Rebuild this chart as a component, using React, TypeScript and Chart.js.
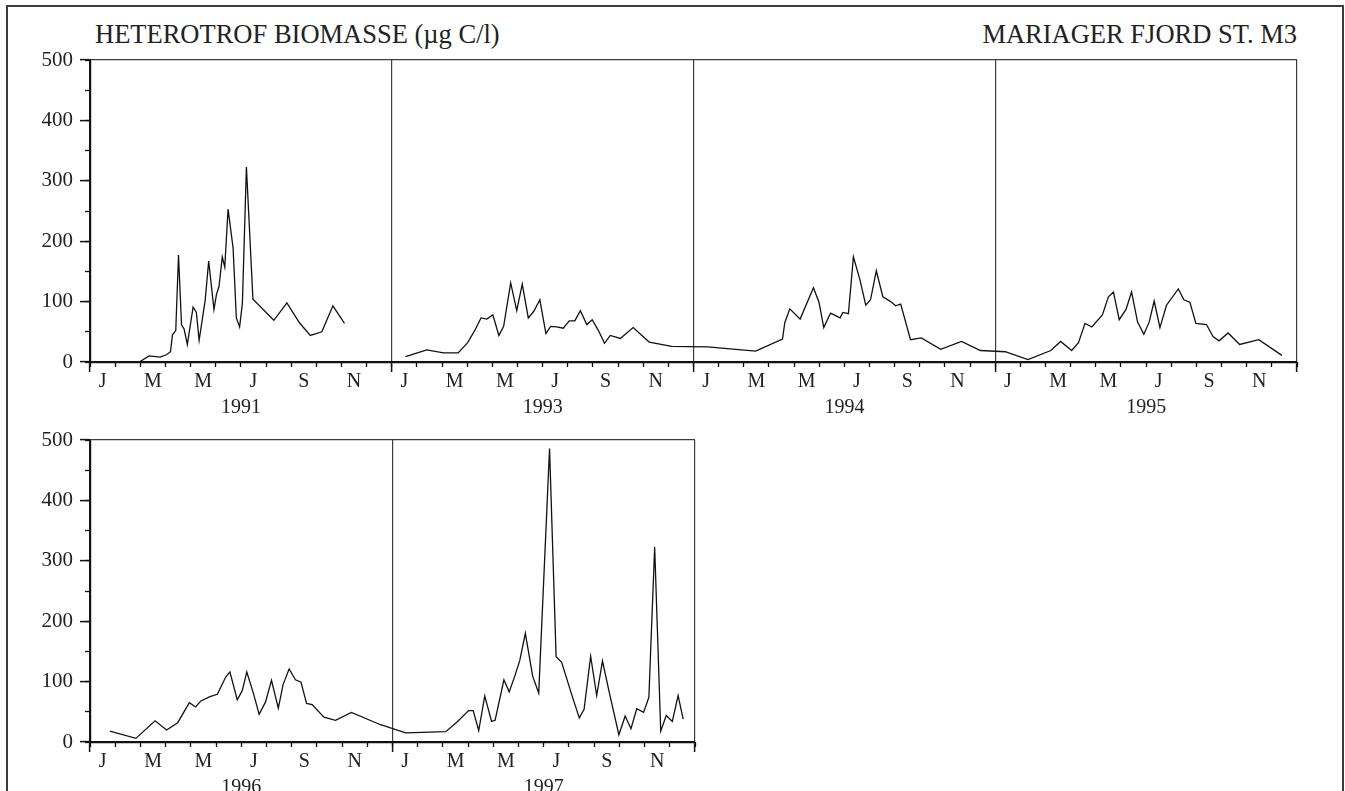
import React, { useEffect, useRef } from 'react';
import { Chart, registerables } from 'chart.js';

Chart.register(...registerables);

// ---------- data ----------
const titleLeft = 'HETEROTROF BIOMASSE (µg C/l)';
const titleRight = 'MARIAGER FJORD ST. M3';

const monthLabels = ['J', 'M', 'M', 'J', 'S', 'N'];
const monthLabelPositions = [0.5, 2.5, 4.5, 6.5, 8.5, 10.5];
const yMajorTicks = [0, 100, 200, 300, 400, 500];
const yMinorTicks = [0, 50, 100, 150, 200, 250, 300, 350, 400, 450, 500];

const topRowYears = [1991, 1993, 1994, 1995];
const bottomRowYears = [1996, 1997];

// month position within the year (0 = 1 Jan, 12 = 31 Dec) and biomass (µg C/l)
const months1991 = [1.96, 2.35, 2.78, 3.04, 3.2, 3.28, 3.41, 3.52, 3.64, 3.74, 3.87, 4.1, 4.23, 4.34, 4.58, 4.72, 4.93, 5.03, 5.13, 5.26, 5.36, 5.49, 5.69, 5.82, 5.95, 6.06, 6.22, 6.48, 7.31, 7.83, 8.33, 8.76, 9.22, 9.66, 10.12];
const values1991 = [0, 10, 8, 12, 17, 45, 52, 177, 61, 55, 29, 91, 82, 36, 102, 167, 87, 112, 125, 174, 157, 253, 189, 73, 58, 97, 323, 104, 69, 98, 65, 44, 50, 93, 64];

const months1993 = [0.55, 1.39, 2.06, 2.64, 3.02, 3.31, 3.55, 3.78, 4.02, 4.26, 4.45, 4.73, 4.97, 5.19, 5.43, 5.65, 5.89, 6.13, 6.32, 6.56, 6.82, 7.06, 7.28, 7.5, 7.76, 7.97, 8.22, 8.46, 8.69, 9.09, 9.6, 10.24, 11.13];
const values1993 = [9, 20, 15, 15, 32, 53, 73, 71, 78, 44, 59, 131, 85, 129, 73, 84, 103, 47, 59, 58, 56, 68, 68, 85, 62, 70, 52, 31, 44, 39, 57, 33, 26];

const months1994 = [0.56, 2.47, 3.54, 3.63, 3.83, 4.24, 4.77, 4.99, 5.18, 5.45, 5.83, 5.94, 6.16, 6.36, 6.62, 6.85, 7.04, 7.27, 7.53, 7.84, 8.04, 8.24, 8.63, 9.06, 9.83, 10.66, 11.41];
const values1994 = [25, 18, 38, 65, 88, 71, 123, 99, 57, 81, 73, 82, 80, 174, 136, 94, 103, 151, 108, 100, 93, 96, 37, 40, 21, 34, 19];

const months1995 = [0.4, 1.3, 2.21, 2.6, 3.04, 3.31, 3.57, 3.84, 4.26, 4.5, 4.7, 4.93, 5.2, 5.42, 5.66, 5.91, 6.12, 6.32, 6.55, 6.81, 7.28, 7.5, 7.74, 7.98, 8.4, 8.66, 8.9, 9.26, 9.72, 10.48, 11.4];
const values1995 = [17, 4, 19, 34, 19, 32, 64, 58, 78, 108, 116, 70, 87, 116, 66, 46, 66, 101, 57, 94, 121, 103, 99, 64, 62, 42, 35, 48, 29, 37, 11];

const months1996 = [0.79, 1.82, 2.58, 3.04, 3.48, 3.94, 4.19, 4.4, 4.76, 5.05, 5.39, 5.55, 5.84, 6.04, 6.22, 6.48, 6.71, 6.96, 7.2, 7.47, 7.66, 7.9, 8.15, 8.37, 8.59, 8.81, 9.28, 9.74, 10.37, 11.5];
const values1996 = [18, 6, 35, 20, 32, 65, 58, 68, 75, 79, 108, 116, 70, 85, 116, 81, 46, 66, 102, 56, 95, 121, 103, 99, 64, 62, 41, 36, 49, 29];

const months1997 = [0.52, 2.11, 2.56, 3.02, 3.2, 3.42, 3.66, 3.93, 4.07, 4.42, 4.63, 4.85, 5.05, 5.27, 5.56, 5.8, 6.23, 6.49, 6.71, 7.15, 7.41, 7.6, 7.86, 8.1, 8.33, 8.61, 8.98, 9.23, 9.46, 9.69, 9.96, 10.17, 10.4, 10.64, 10.86, 11.1, 11.33, 11.53];
const values1997 = [15, 17, 33, 52, 52, 19, 76, 34, 36, 103, 83, 109, 135, 180, 109, 81, 486, 141, 132, 73, 40, 54, 142, 77, 134, 80, 12, 43, 22, 55, 49, 74, 323, 18, 44, 34, 77, 38];

const seriesByYear: Record<number, [number[], number[]]> = {
  1991: [months1991, values1991],
  1993: [months1993, values1993],
  1994: [months1994, values1994],
  1995: [months1995, values1995],
  1996: [months1996, values1996],
  1997: [months1997, values1997],
};

// ---------- styling ----------
const FONT = "'Liberation Serif', 'Times New Roman', Times, serif";
const TEXT = '#222';
const AXIS = '#111';
const FRAME = '#3c3c3c';

Chart.defaults.font.family = FONT;
Chart.defaults.font.size = 20;
Chart.defaults.color = TEXT;

const setTicks = (vals: number[]) => (scale: any) => {
  scale.ticks = vals.map((v) => ({ value: v }));
};

function PanelRow({ years, width, top }: { years: number[]; width: number; top: number }) {
  const ref = useRef<HTMLCanvasElement | null>(null);

  useEffect(() => {
    if (!ref.current) return;
    const n = years.length;
    const span = n * 12;
    const points: { x: number; y: number | null }[] = [];
    years.forEach((yr, i) => {
      const [m, v] = seriesByYear[yr];
      if (i > 0 && yr !== years[i - 1] + 1) points.push({ x: i * 12, y: null });
      m.forEach((mm, k) => points.push({ x: i * 12 + mm, y: v[k] }));
    });

    const boundaryTicks = Array.from({ length: n + 1 }, (_, i) => i * 12);
    const monthTicks = Array.from({ length: span + 1 }, (_, i) => i);
    const labelTicks = years.flatMap((_, i) => monthLabelPositions.map((p) => i * 12 + p));
    const yearTicks = years.map((_, i) => i * 12 + 6);

    const base = { type: 'linear', min: 0, max: span, position: 'bottom' } as any;

    const chart = new Chart(ref.current, {
      type: 'line',
      data: {
        datasets: [
          {
            data: points as any,
            xAxisID: 'x',
            yAxisID: 'y',
            borderColor: '#111',
            borderWidth: 1.3,
            pointRadius: 0,
            tension: 0,
            fill: false,
            spanGaps: false,
          },
        ],
      },
      options: {
        animation: false,
        responsive: false,
        maintainAspectRatio: false,
        events: [],
        layout: { padding: { left: 0, right: 48, top: 60, bottom: 0 } },
        plugins: { legend: { display: false }, tooltip: { enabled: false }, title: { display: false } },
        scales: {
          xm: {
            ...base,
            weight: 1,
            afterBuildTicks: setTicks(monthTicks),
            afterFit: (s: any) => { s.height = 0; },
            ticks: { autoSkip: false, maxRotation: 0, minRotation: 0, callback: () => '' },
            grid: { drawOnChartArea: false, tickLength: 5, tickColor: AXIS, tickWidth: 1.3 },
            border: { display: false },
          },
          x: {
            ...base,
            weight: 2,
            afterBuildTicks: setTicks(boundaryTicks),
            afterFit: (s: any) => { s.height = 0; },
            ticks: { autoSkip: false, maxRotation: 0, minRotation: 0, callback: () => '' },
            grid: { drawOnChartArea: true, color: FRAME, lineWidth: 1.2, tickLength: 10, tickColor: AXIS, tickWidth: 1.5 },
            border: { display: true, color: AXIS, width: 2.2 },
          },
          xl: {
            ...base,
            weight: 3,
            afterBuildTicks: setTicks(labelTicks),
            afterFit: (s: any) => { s.height = 30; },
            ticks: {
              autoSkip: false, maxRotation: 0, minRotation: 0, padding: 8, color: TEXT,
              font: { family: FONT, size: 20 },
              callback: (_v: any, i: number) => monthLabels[i % monthLabels.length],
            },
            grid: { display: false, drawTicks: false },
            border: { display: false },
          },
          xy: {
            ...base,
            weight: 4,
            afterBuildTicks: setTicks(yearTicks),
            afterFit: (s: any) => { s.height = 28; },
            ticks: {
              autoSkip: false, maxRotation: 0, minRotation: 0, padding: 4, color: TEXT,
              font: { family: FONT, size: 20 },
              callback: (_v: any, i: number) => String(years[i]),
            },
            grid: { display: false, drawTicks: false },
            border: { display: false },
          },
          ym: {
            type: 'linear',
            position: 'left',
            min: 0,
            max: 500,
            weight: 1,
            afterBuildTicks: setTicks(yMinorTicks),
            afterFit: (s: any) => { s.width = 0; },
            ticks: { autoSkip: false, callback: () => '' },
            grid: { drawOnChartArea: false, tickLength: 5, tickColor: AXIS, tickWidth: 1.3 },
            border: { display: false },
          },
          y: {
            type: 'linear',
            position: 'left',
            min: 0,
            max: 500,
            weight: 2,
            afterBuildTicks: setTicks(yMajorTicks),
            afterFit: (s: any) => { s.width = 90; },
            ticks: {
              autoSkip: false, padding: 7, color: TEXT,
              font: { family: FONT, size: 21 },
              callback: (v: any) => String(v),
            },
            grid: {
              drawOnChartArea: true,
              color: (ctx: any) => (ctx.tick && ctx.tick.value === 500 ? FRAME : 'rgba(0,0,0,0)'),
              lineWidth: 1.2,
              tickLength: 10,
              tickColor: AXIS,
              tickWidth: 1.5,
            },
            border: { display: true, color: AXIS, width: 2.2 },
          },
        } as any,
      },
    });
    return () => chart.destroy();
  }, [years, width]);

  return (
    <canvas
      ref={ref}
      width={width}
      height={420}
      style={{ position: 'absolute', left: 0, top, width, height: 420 }}
    />
  );
}

export default function App() {
  return (
    <div
      style={{
        position: 'fixed',
        left: 0,
        top: 0,
        width: 1345,
        height: 791,
        overflow: 'hidden',
        background: '#fff',
      }}
    >
      <div
        style={{
          position: 'absolute',
          left: 6,
          top: 5,
          width: 1338,
          height: 900,
          boxSizing: 'border-box',
          border: `2px solid ${FRAME}`,
        }}
      />
      <div
        style={{
          position: 'absolute',
          left: 95,
          top: 21,
          fontFamily: FONT,
          fontSize: 26.5,
          lineHeight: '26px',
          color: TEXT,
          whiteSpace: 'nowrap',
        }}
      >
        {titleLeft}
      </div>
      <div
        style={{
          position: 'absolute',
          right: 48,
          top: 21,
          fontFamily: FONT,
          fontSize: 26.5,
          lineHeight: '26px',
          color: TEXT,
          whiteSpace: 'nowrap',
        }}
      >
        {titleRight}
      </div>
      <PanelRow years={topRowYears} width={1345} top={0} />
      <PanelRow years={bottomRowYears} width={743} top={380} />
    </div>
  );
}
